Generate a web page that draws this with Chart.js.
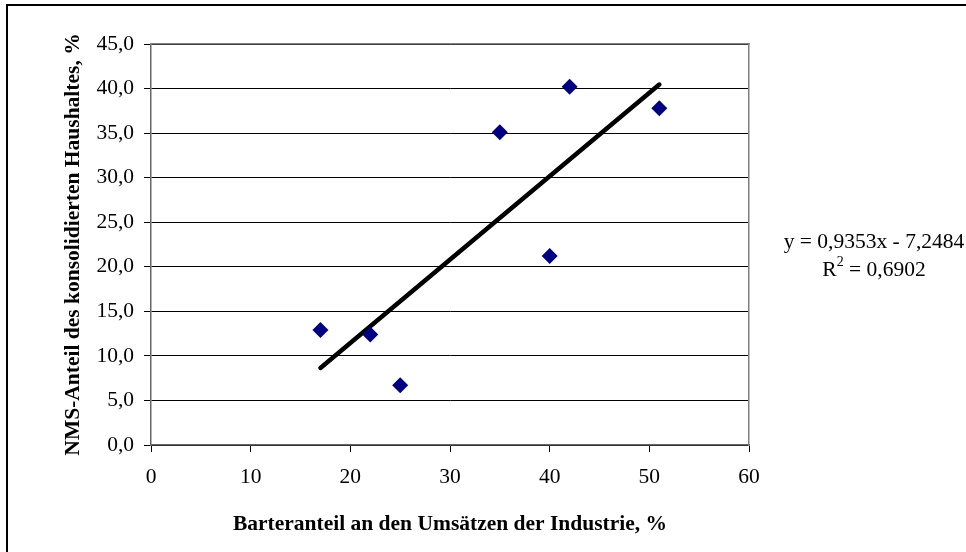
<!DOCTYPE html>
<html>
<head>
<meta charset="utf-8">
<script src="https://cdn.jsdelivr.net/npm/chart.js@4"></script>
<style>
  html, body { margin: 0; padding: 0; background: #fff; }
  #wrap { width: 966px; height: 552px; }
</style>
</head>
<body>
<div id="wrap"><canvas id="chart" width="966" height="552"></canvas></div>
<script>
// data
const barterShare = [17, 22, 25, 35, 40, 42, 51];
const nmsShare = [12.9, 12.4, 6.7, 35.1, 21.2, 40.2, 37.8];
const trendX = [17, 51];
const trendY = [8.65, 40.45];
const equationText = 'y = 0,9353x - 7,2484';
const rSquaredText = ' = 0,6902';
const xTitle = 'Barteranteil an den Umsätzen der Industrie, %';
const yTitle = 'NMS-Anteil des konsolidierten Haushaltes, %';

const serif = '"Liberation Serif", "Times New Roman", serif';
const fontSize = 21.5;

const extras = {
  id: 'extras',
  afterDraw(chart) {
    const ctx = chart.ctx;
    ctx.save();
    // outer frame (only left and top visible)
    ctx.strokeStyle = '#000';
    ctx.lineWidth = 2;
    ctx.beginPath();
    ctx.moveTo(7, 552);
    ctx.lineTo(7, 5);
    ctx.lineTo(966, 5);
    ctx.stroke();

    // trendline equation
    const cx = 874;
    ctx.fillStyle = '#000';
    ctx.textBaseline = 'alphabetic';
    ctx.font = fontSize + 'px ' + serif;
    ctx.textAlign = 'center';
    ctx.fillText(equationText, cx, 248);

    // R² with a real superscript
    ctx.textAlign = 'left';
    const big = fontSize + 'px ' + serif;
    const small = (fontSize * 0.65) + 'px ' + serif;
    ctx.font = big;
    const wR = ctx.measureText('R').width;
    const wRest = ctx.measureText(rSquaredText).width;
    ctx.font = small;
    const w2 = ctx.measureText('2').width;
    let x = cx - (wR + w2 + wRest) / 2;
    ctx.font = big;
    ctx.fillText('R', x, 276);
    x += wR;
    ctx.font = small;
    ctx.fillText('2', x, 266);
    x += w2;
    ctx.font = big;
    ctx.fillText(rSquaredText, x, 276);
    ctx.restore();
  }
};

new Chart(document.getElementById('chart'), {
  type: 'scatter',
  data: {
    datasets: [
      {
        label: 'Daten',
        data: barterShare.map((x, i) => ({ x: x, y: nmsShare[i] })),
        pointStyle: 'rectRot',
        pointRadius: 8,
        backgroundColor: '#000080',
        borderColor: '#000080',
        borderWidth: 0
      },
      {
        label: 'Trend',
        type: 'line',
        data: trendX.map((x, i) => ({ x: x, y: trendY[i] })),
        borderColor: '#000',
        borderWidth: 4.5,
        borderCapStyle: 'round',
        pointRadius: 0,
        fill: false
      }
    ]
  },
  options: {
    responsive: false,
    animation: false,
    layout: { padding: { top: 44, right: 217, left: 0, bottom: 0 } },
    plugins: { legend: { display: false }, tooltip: { enabled: false } },
    scales: {
      x: {
        type: 'linear',
        min: 0,
        max: 60,
        ticks: { stepSize: 10, color: '#000', font: { family: serif, size: fontSize }, padding: 12, maxRotation: 0 },
        grid: { drawOnChartArea: false, drawTicks: true, tickLength: 7, color: '#000' },
        border: { color: '#666', width: 1.5 },
        title: {
          display: true,
          text: xTitle,
          color: '#000',
          font: { family: serif, size: fontSize, weight: 'bold' },
          padding: { top: 0, bottom: 15 }
        },
        afterFit(scale) { scale.height = 107; }
      },
      y: {
        min: 0,
        max: 45,
        ticks: {
          stepSize: 5,
          color: '#000',
          font: { family: serif, size: fontSize },
          padding: 10,
          callback: v => v.toFixed(1).replace('.', ',')
        },
        grid: { color: '#000', lineWidth: 1, tickLength: 7 },
        border: { color: '#666', width: 1.5 },
        title: {
          display: true,
          text: yTitle,
          color: '#000',
          font: { family: serif, size: fontSize, weight: 'bold' },
          padding: { top: 61, bottom: 0 }
        },
        afterFit(scale) { scale.width = 151; }
      },
      x2: {
        type: 'linear', position: 'top', min: 0, max: 60,
        ticks: { display: false }, grid: { display: false },
        border: { color: '#808080', width: 1.5 },
        afterFit(scale) { scale.height = 0; }
      },
      y2: {
        position: 'right', min: 0, max: 45,
        ticks: { display: false }, grid: { display: false },
        border: { color: '#808080', width: 1.5 },
        afterFit(scale) { scale.width = 0; }
      }
    }
  },
  plugins: [extras]
});
</script>
</body>
</html>
